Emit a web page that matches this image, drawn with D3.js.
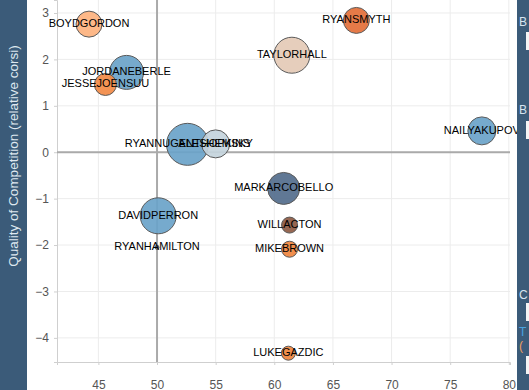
<!DOCTYPE html>
<html>
<head>
<meta charset="utf-8">
<script src="https://cdn.jsdelivr.net/npm/d3@7"></script>
<style>
  html, body { margin: 0; padding: 0; background: #fff; }
  svg { display: block; font-family: Arial, "Liberation Sans", sans-serif; }
</style>
</head>
<body>
<svg id="chart" width="529" height="390"></svg>
<script>
// ---- data ----
const players = ["BOYDGORDON","JORDANEBERLE","JESSEJOENSUU","RYANNUGENTHOPKINS","ALESHEMSKY","RYANSMYTH","TAYLORHALL","NAILYAKUPOV","MARKARCOBELLO","DAVIDPERRON","RYANHAMILTON","WILLACTON","MIKEBROWN","LUKEGAZDIC"];
const zoneStart = [44.2, 47.4, 45.6, 52.6, 55.0, 67.0, 61.5, 77.7, 60.8, 50.1, 50.0, 61.3, 61.3, 61.2];
const qualComp  = [2.76, 1.72, 1.46, 0.17, 0.18, 2.84, 2.09, 0.46, -0.78, -1.37, -2.05, -1.57, -2.09, -4.33];
const iceTime   = [383, 655, 274, 1000, 444, 383, 735, 444, 580, 735, 9, 145, 145, 111];
const colors    = ["#fdb27e","#6aa3c9","#f28a45","#6aa3c9","#c4d4dc","#e36f38","#e4cab6","#6aa3c9","#536c8c","#6aa3c9","#536c8c","#8d5a43","#f0843e","#f0843e"];
const xTicks = [45, 50, 55, 60, 65, 70, 75, 80];
const yTicks = [3, 2, 1, 0, -1, -2, -3, -4];
const yTitle = "Quality of Competition (relative corsi)";
const sideLetters = ["B", "B", "C", "T", "("];

// ---- layout ----
const W = 529, H = 390;
const plot = { left: 57, right: 510, top: 0, bottom: 362 };
const svg = d3.select("#chart");

const x = d3.scaleLinear().domain([41.47, 80.1]).range([plot.left, plot.right]);
const y = d3.scaleLinear().domain([3.28, -4.52]).range([plot.top, plot.bottom]);
const r = d3.scaleSqrt().domain([0, 1000]).range([0, 21]);

// left panel
svg.append("rect").attr("x", 0).attr("y", 0).attr("width", 27).attr("height", H).attr("fill", "#3b5b79");
svg.append("text")
  .attr("transform", "translate(18,156) rotate(-90)")
  .attr("text-anchor", "middle")
  .attr("font-size", 13.5)
  .attr("fill", "#dfe8f0")
  .text(yTitle);

// gridlines
const g = svg.append("g");
g.selectAll("line.vg").data(xTicks).join("line")
  .attr("x1", d => x(d)).attr("x2", d => x(d))
  .attr("y1", plot.top).attr("y2", plot.bottom)
  .attr("stroke", "#ececec").attr("stroke-width", 1);
g.selectAll("line.hg").data(yTicks).join("line")
  .attr("x1", plot.left).attr("x2", plot.right)
  .attr("y1", d => y(d)).attr("y2", d => y(d))
  .attr("stroke", "#ececec").attr("stroke-width", 1);

// axes
const yAxis = d3.axisLeft(y).tickValues(yTicks).tickSize(3).tickPadding(5).tickFormat(d3.format("d"));
const yg = svg.append("g").attr("transform", `translate(${plot.left},0)`).call(yAxis);
yg.select(".domain").attr("stroke", "#cfcfcf");
yg.selectAll(".tick line").attr("stroke", "#cfcfcf");
yg.selectAll(".tick text").attr("fill", "#555").attr("font-size", 12).attr("font-family", "Arial, 'Liberation Sans', sans-serif");

const xAxis = d3.axisBottom(x).tickValues(xTicks).tickSize(3).tickPadding(15).tickFormat(d3.format("d"));
const xg = svg.append("g").attr("transform", `translate(0,${plot.bottom})`).call(xAxis);
xg.select(".domain").attr("stroke", "#cfcfcf");
xg.selectAll(".tick line").attr("stroke", "#cfcfcf");
xg.selectAll(".tick text").attr("fill", "#555").attr("font-size", 12).attr("font-family", "Arial, 'Liberation Sans', sans-serif");

// zero lines
svg.append("line").attr("x1", x(50)).attr("x2", x(50)).attr("y1", plot.top).attr("y2", plot.bottom)
  .attr("stroke", "#aaaaaa").attr("stroke-width", 2);
svg.append("line").attr("x1", plot.left).attr("x2", plot.right).attr("y1", y(0)).attr("y2", y(0))
  .attr("stroke", "#aaaaaa").attr("stroke-width", 2);

// bubbles
const data = players.map((p, i) => ({ name: p, zs: zoneStart[i], qc: qualComp[i], t: iceTime[i], c: colors[i] }));
svg.append("g").selectAll("circle").data(data).join("circle")
  .attr("cx", d => x(d.zs)).attr("cy", d => y(d.qc))
  .attr("r", d => Math.max(2, r(d.t)))
  .attr("fill", d => d.c).attr("fill-opacity", 0.92)
  .attr("stroke", "#5a5a5a").attr("stroke-width", 1);

svg.append("g").selectAll("text").data(data).join("text")
  .attr("x", d => x(d.zs)).attr("y", d => y(d.qc) - 1)
  .attr("text-anchor", "middle").attr("dominant-baseline", "central")
  .attr("font-size", 11).attr("fill", "#000")
  .text(d => d.name);

// right panel
svg.append("rect").attr("x", 517).attr("y", 0).attr("width", 12).attr("height", H).attr("fill", "#3b5b79");
const sideY = [22, 110, 295, 332, 346];
const sideCol = ["#d6e4f0", "#d6e4f0", "#d6e4f0", "#4aa3e0", "#f0a060"];
svg.append("g").selectAll("text").data(sideLetters).join("text")
  .attr("x", 519).attr("y", (d, i) => sideY[i]).attr("dominant-baseline", "central")
  .attr("font-size", 12).attr("fill", (d, i) => sideCol[i]).text(d => d);
const rectY = [32, 121, 303, 356];
svg.append("g").selectAll("rect").data(rectY).join("rect")
  .attr("x", 526).attr("y", d => d).attr("width", 3).attr("height", 18).attr("fill", "#f4f4f4");
</script>
</body>
</html>
